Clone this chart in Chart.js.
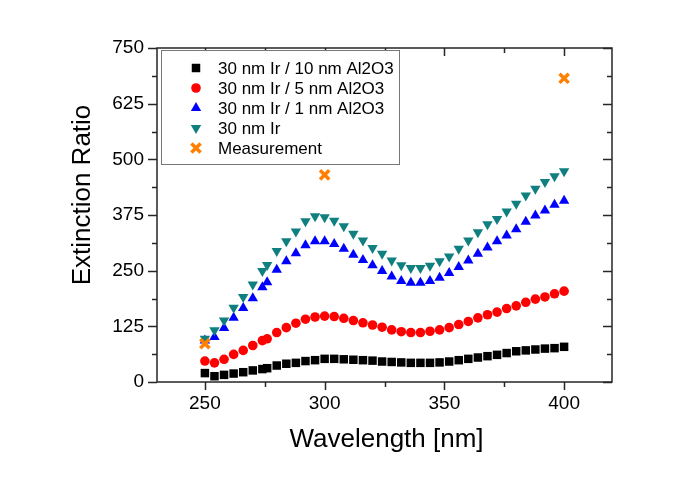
<!DOCTYPE html>
<html>
<head>
<meta charset="utf-8">
<script src="https://cdn.jsdelivr.net/npm/chart.js@4/dist/chart.umd.min.js"></script>
<style>
html,body{margin:0;padding:0;background:#fff;}
canvas{display:block;}
</style>
</head>
<body>
<canvas id="c" width="685" height="491"></canvas>
<script>
const wavelengths = [250,254,258,262,266,270,274,276,280,284,288,292,296,300,304,308,312,316,320,324,328,332,336,340,344,348,352,356,360,364,368,372,376,380,384,388,392,396,400];
const ir10 = [20,13,16,19,22,26,29,31,37,41,43,47,49,52,52,51,50,49,48,46,45,44,43,43,43,44,46,49,52,55,58,61,65,69,71,73,75,76,79];
const ir5 = [47,43,51,62,71,82,93,97,111,122,132,141,146,148,147,143,138,133,128,123,117,113,111,111,114,117,122,129,136,144,151,157,165,171,179,186,191,198,204];
const ir1 = [93,101,121,144,166,188,213,224,252,271,289,307,316,316,310,299,286,274,262,249,237,227,223,223,227,234,245,258,273,288,302,316,329,343,360,374,385,398,407];
const ir0 = [97,116,138,167,191,219,249,263,294,316,338,361,372,370,362,350,333,318,301,288,273,262,256,256,261,271,282,299,318,336,354,366,383,400,419,434,449,462,473];
const measX = [250,300,400];
const measY = [86,465,682];
const seriesNames = ["30 nm Ir / 10 nm Al2O3","30 nm Ir / 5 nm Al2O3","30 nm Ir / 1 nm Al2O3","30 nm Ir","Measurement"];
const xTicks = [250,300,350,400];
const xMinor = [275,325,375];
const yTicks = [0,125,250,375,500,625,750];
const yMinor = [62.5,187.5,312.5,437.5,562.5,687.5];
const xTitle = "Wavelength [nm]";
const yTitle = "Extinction Ratio";

const FONT = "'Liberation Sans', Arial, sans-serif";
const pts = (xs, ys) => xs.map((x, i) => ({x: x, y: ys[i]}));

const styles = [
  {color:'#000000', style:'rect', radius:6, rot:0},
  {color:'#ff0000', style:'circle', radius:4.8, rot:0},
  {color:'#0000ff', style:'triangle', radius:6, rot:0},
  {color:'#0f7f7f', style:'triangle', radius:6, rot:180},
  {color:'#ff8000', style:'crossRot', radius:6.5, rot:0}
];
const seriesData = [pts(wavelengths, ir10), pts(wavelengths, ir5), pts(wavelengths, ir1), pts(wavelengths, ir0), pts(measX, measY)];

const datasets = seriesData.map((d, i) => ({
  label: seriesNames[i],
  data: d,
  showLine: false,
  pointStyle: styles[i].style,
  pointRadius: styles[i].radius,
  pointHoverRadius: styles[i].radius,
  pointRotation: styles[i].rot,
  backgroundColor: styles[i].color,
  borderColor: styles[i].color,
  borderWidth: i === 4 ? 3.5 : 0,
  order: 4 - i
}));

function drawMarker(ctx, s, x, y) {
  ctx.save();
  ctx.fillStyle = s.color;
  ctx.strokeStyle = s.color;
  const r = s.radius;
  if (s.style === 'rect') {
    const h = r * Math.SQRT1_2;
    ctx.fillRect(x - h, y - h, 2 * h, 2 * h);
  } else if (s.style === 'circle') {
    ctx.beginPath(); ctx.arc(x, y, r, 0, Math.PI * 2); ctx.fill();
  } else if (s.style === 'triangle') {
    const dir = s.rot === 180 ? -1 : 1;
    ctx.beginPath();
    ctx.moveTo(x, y - dir * r);
    ctx.lineTo(x + r * Math.sin(2 * Math.PI / 3), y + dir * r * 0.5);
    ctx.lineTo(x - r * Math.sin(2 * Math.PI / 3), y + dir * r * 0.5);
    ctx.closePath(); ctx.fill();
  } else {
    const h = r * Math.SQRT1_2;
    ctx.lineWidth = 3.5;
    ctx.beginPath();
    ctx.moveTo(x - h, y - h); ctx.lineTo(x + h, y + h);
    ctx.moveTo(x + h, y - h); ctx.lineTo(x - h, y + h);
    ctx.stroke();
  }
  ctx.restore();
}

const framePlugin = {
  id: 'frame',
  afterDatasetsDraw(chart) {
    const ctx = chart.ctx;
    const a = chart.chartArea;
    const xs = chart.scales.x, ys = chart.scales.y;
    ctx.save();
    ctx.strokeStyle = '#262626';
    ctx.lineWidth = 1.5;
    ctx.strokeRect(a.left, a.top, a.right - a.left, a.bottom - a.top);
    ctx.beginPath();
    xTicks.forEach(v => {
      const p = Math.round(xs.getPixelForValue(v)) + 0.5;
      ctx.moveTo(p, a.bottom); ctx.lineTo(p, a.bottom + 8);
      ctx.moveTo(p, a.top); ctx.lineTo(p, a.top + 8);
    });
    xMinor.forEach(v => {
      const p = Math.round(xs.getPixelForValue(v)) + 0.5;
      ctx.moveTo(p, a.bottom); ctx.lineTo(p, a.bottom + 5);
      ctx.moveTo(p, a.top); ctx.lineTo(p, a.top + 5);
    });
    yTicks.forEach(v => {
      const p = Math.round(ys.getPixelForValue(v)) + 0.5;
      ctx.moveTo(a.left, p); ctx.lineTo(a.left - 9, p);
      ctx.moveTo(a.right, p); ctx.lineTo(a.right - 9, p);
    });
    yMinor.forEach(v => {
      const p = Math.round(ys.getPixelForValue(v)) + 0.5;
      ctx.moveTo(a.left, p); ctx.lineTo(a.left - 5, p);
      ctx.moveTo(a.right, p); ctx.lineTo(a.right - 5, p);
    });
    ctx.stroke();

    // legend
    const lx = 161, ly = 50, lw = 238, lh = 114;
    ctx.fillStyle = '#ffffff';
    ctx.fillRect(lx, ly, lw, lh);
    ctx.strokeStyle = '#777777';
    ctx.lineWidth = 1;
    ctx.strokeRect(lx + 0.5, ly + 0.5, lw, lh);
    ctx.font = '17px ' + FONT;
    ctx.textBaseline = 'middle';
    ctx.textAlign = 'left';
    seriesNames.forEach((name, i) => {
      const y = ly + 18 + i * 20;
      drawMarker(ctx, styles[i], 196, y);
      ctx.fillStyle = '#000000';
      ctx.fillText(name, 218, y + 1);
    });

    // axis titles
    ctx.fillStyle = '#000000';
    ctx.font = '26px ' + FONT;
    ctx.textAlign = 'center';
    ctx.textBaseline = 'middle';
    ctx.fillText(xTitle, (a.left + a.right) / 2 + 2, 440);
    ctx.save();
    ctx.translate(83, 195);
    ctx.rotate(-Math.PI / 2);
    ctx.fillText(yTitle, 0, 0);
    ctx.restore();
    ctx.restore();
  }
};

new Chart(document.getElementById('c'), {
  type: 'scatter',
  data: { datasets: datasets },
  options: {
    responsive: false,
    animation: false,
    events: [],
    layout: { padding: { left: 0, top: 48, right: 73, bottom: 0 } },
    plugins: { legend: { display: false }, tooltip: { enabled: false } },
    scales: {
      x: {
        type: 'linear', position: 'bottom', min: 230, max: 420,
        afterBuildTicks: s => { s.ticks = xTicks.map(v => ({value: v})); },
        afterFit: s => { s.height = 109; },
        grid: { display: false, drawTicks: false },
        border: { display: false },
        ticks: { padding: 10, color: '#000', font: { family: FONT, size: 19 } }
      },
      y: {
        type: 'linear', position: 'left', min: 0, max: 750,
        afterBuildTicks: s => { s.ticks = yTicks.map(v => ({value: v})); },
        afterFit: s => { s.width = 157; },
        grid: { display: false, drawTicks: false },
        border: { display: false },
        ticks: { padding: 13, color: '#000', font: { family: FONT, size: 19 } }
      }
    }
  },
  plugins: [framePlugin]
});
</script>
</body>
</html>
